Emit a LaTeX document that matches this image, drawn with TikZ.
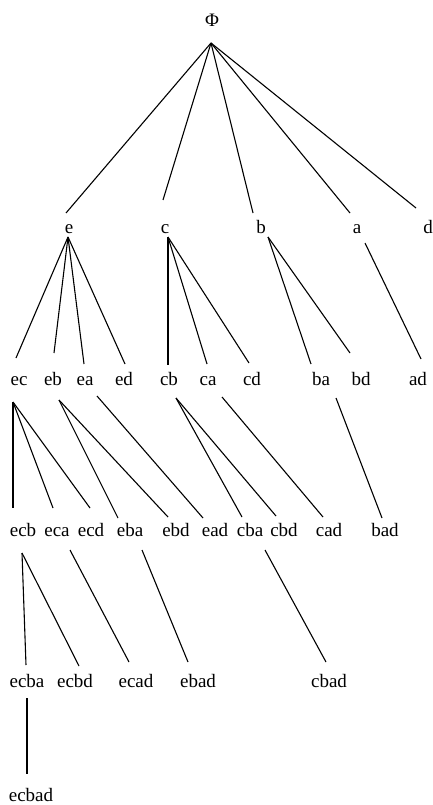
\documentclass[tikz,border=0pt]{standalone}
\usepackage{fontspec}
\setmainfont{Liberation Serif}
\begin{document}
\begin{tikzpicture}[x=1pt, y=-1pt, line width=1.1pt,
  lbl/.style={inner sep=0pt, anchor=base, font=\fontsize{19}{19}\selectfont}]
  \useasboundingbox (0,0) rectangle (433,805);
  % root
  \node[lbl] (phi) at (212,27) {Φ};
  % one letter
  \node[lbl] (e) at (69,233) {e};
  \node[lbl] (c) at (165,233) {c};
  \node[lbl] (b) at (261,233) {b};
  \node[lbl] (a) at (357,233) {a};
  \node[lbl] (d) at (428,233) {d};
  % two letters
  \foreach \n/\x in {ec/19, eb/53, ea/85, ed/124, cb/169, ca/208, cd/252, ba/321, bd/361, ad/418}
    \node[lbl] (\n) at (\x,385) {\n};
  % three letters
  \foreach \n/\x in {ecb/23, eca/57, ecd/91, eba/130, ebd/176, ead/215, cba/250, cbd/284, cad/329, bad/385}
    \node[lbl] (\n) at (\x,536) {\n};
  % four and five letters
  \foreach \n/\x in {ecba/27, ecbd/75, ecad/136, ebad/198, cbad/329}
    \node[lbl] (\n) at (\x,687) {\n};
  \node[lbl] (ecbad) at (31,801) {ecbad};
  % fan points below the parents
  \foreach \p/\dx/\dy in {phi/-1/16, e/-1/4, c/3/4, b/7/4, a/8/10, ec/-6/17, eb/6/15, ea/12/11,
      cb/7/13, ca/14/12, ba/15/13, ecb/-1/17, eca/13/14, eba/12/14, cba/15/14, ecba/0/11}
    \coordinate (f-\p) at ([shift={(\dx,\dy)}]\p.base);
  % edges
  \foreach \p/\c/\dx/\dy in {phi/e/-3/-20, phi/c/-2/-33, phi/b/-8/-20, phi/a/-7/-20, phi/d/-12/-25,
      e/ec/-3/-27, e/eb/1/-32, e/ea/-1/-21, e/ed/1/-21,
      c/cb/-1/-20, c/ca/-1/-21, c/cd/-3/-22,
      b/ba/-10/-21, b/bd/-11/-32, a/ad/3/-26,
      ec/ecb/-10/-28, ec/eca/-4/-28, ec/ecd/-1/-28,
      eb/eba/-12/-18, eb/ebd/-8/-19, ea/ead/-12/-18,
      cb/cba/-8/-19, cb/cbd/-8/-20, ca/cad/-6/-19, ba/bad/-3/-18,
      ecb/ecba/-1/-22, ecb/ecbd/4/-21, eca/ecad/-7/-25, eba/ebad/-10/-25, cba/cbad/-3/-25,
      ecba/ecbad/-4/-27}
    \draw (f-\p) -- ([shift={(\dx,\dy)}]\c.base);
\end{tikzpicture}
\end{document}
